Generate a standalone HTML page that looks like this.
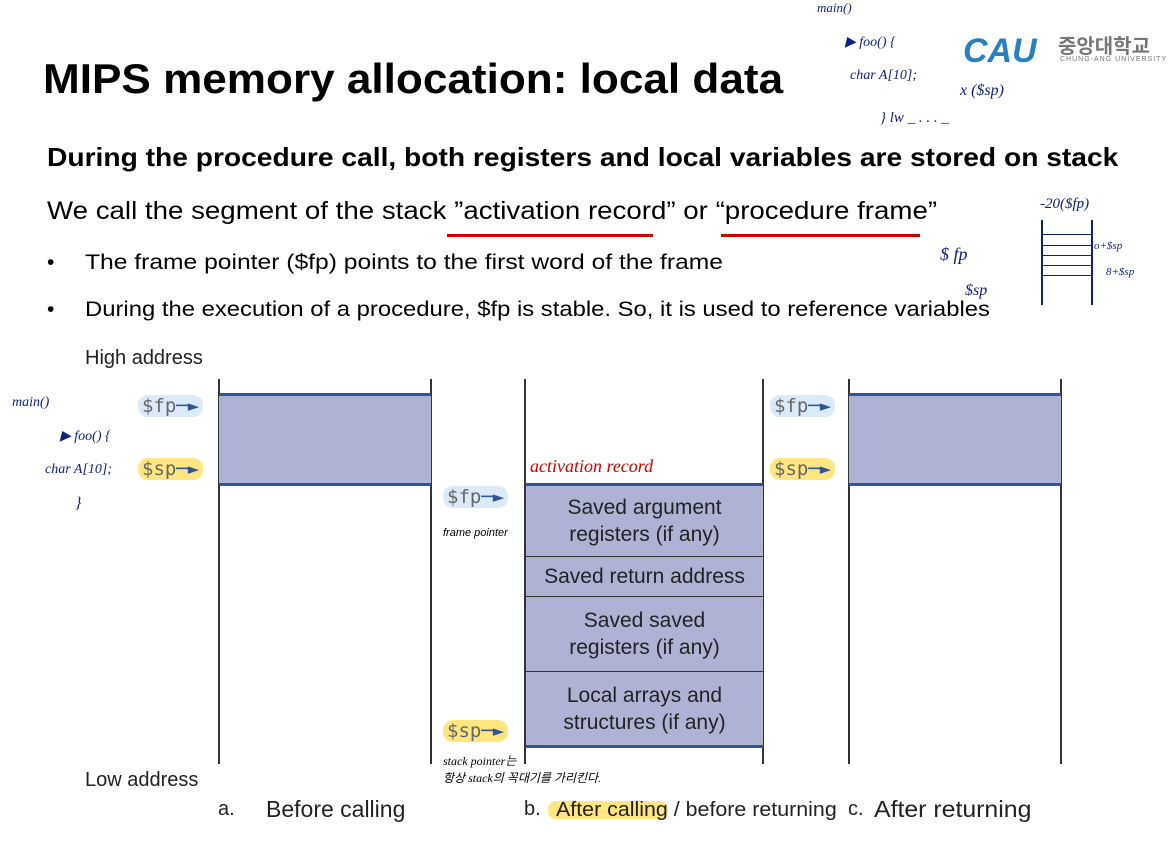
<!DOCTYPE html>
<html><head><meta charset="utf-8"><style>
body{margin:0;width:1169px;height:841px;background:#fff;position:relative;overflow:hidden;font-family:"Liberation Sans",sans-serif}
.a{position:absolute;white-space:nowrap;transform-origin:0 0}
.v{position:absolute;width:2px;background:#333}
.box{position:absolute;background:#aeb3d6;box-sizing:border-box;border-top:3px solid #2f5597;border-bottom:3px solid #2f5597}
.cell{position:absolute;background:#aeb3d6;box-sizing:border-box;border:1px solid #333;display:flex;align-items:center;justify-content:center;text-align:center;font-size:21px;line-height:27px;color:#222}
.reg{position:absolute;font-family:"DejaVu Sans Mono","Liberation Mono",monospace;font-size:19px;color:#666;padding:0 4px;border-radius:10px}
.hw{position:absolute;font-family:"Liberation Serif",serif;font-style:italic;color:#102080;white-space:nowrap}
</style></head><body>
<div class="a" style="left:43px;top:55px;font-size:42px;font-weight:bold;color:#000;transform:scaleX(1.05)">MIPS memory allocation: local data</div>
<div class="a" style="left:47px;top:142px;font-size:26px;font-weight:bold;transform:scaleX(1.084)">During the procedure call, both registers and local variables are stored on stack</div>
<div class="a" style="left:47px;top:197px;font-size:25px;transform:scaleX(1.107)">We call the segment of the stack ”activation record” or “procedure frame”</div>
<div class="a" style="left:447px;top:234px;width:206px;height:3px;background:#d00000"></div>
<div class="a" style="left:721px;top:234px;width:199px;height:3px;background:#d00000"></div>
<div class="a" style="left:47px;top:251px;font-size:21px">•</div>
<div class="a" style="left:85px;top:251px;font-size:21px;transform:scaleX(1.173)">The frame pointer ($fp) points to the first word of the frame</div>
<div class="a" style="left:47px;top:298px;font-size:21px">•</div>
<div class="a" style="left:85px;top:298px;font-size:21px;transform:scaleX(1.135)">During the execution of a procedure, $fp is stable. So, it is used to reference variables</div>
<div class="a" style="left:85px;top:347px;font-size:20px;color:#222">High address</div>
<div class="a" style="left:85px;top:769px;font-size:20px;color:#222">Low address</div>

<div class="v" style="left:218px;top:379px;height:385px"></div>
<div class="v" style="left:430px;top:379px;height:385px"></div>
<div class="v" style="left:524px;top:379px;height:385px"></div>
<div class="v" style="left:762px;top:379px;height:385px"></div>
<div class="v" style="left:848px;top:379px;height:385px"></div>
<div class="v" style="left:1060px;top:379px;height:385px"></div>

<div class="box" style="left:219px;top:393px;width:212px;height:93px"></div>
<div class="box" style="left:849px;top:393px;width:212px;height:93px"></div>

<div class="cell" style="left:525px;top:483px;width:239px;height:74px;border-top:3px solid #2f5597">Saved argument<br>registers (if any)</div>
<div class="cell" style="left:525px;top:556px;width:239px;height:41px">Saved return address</div>
<div class="cell" style="left:525px;top:596px;width:239px;height:76px">Saved saved<br>registers (if any)</div>
<div class="cell" style="left:525px;top:671px;width:239px;height:77px;border-bottom:3px solid #2f5597">Local arrays and<br>structures (if any)</div>

<div class="reg" style="left:138px;top:395px;background:#dbeaf8">$fp<span style="color:#2f5597">─►</span></div>
<div class="reg" style="left:138px;top:458px;background:#ffe680">$sp<span style="color:#2f5597">─►</span></div>
<div class="reg" style="left:443px;top:486px;background:#dbeaf8">$fp<span style="color:#2f5597">─►</span></div>
<div class="reg" style="left:443px;top:720px;background:#ffe680">$sp<span style="color:#2f5597">─►</span></div>
<div class="reg" style="left:770px;top:395px;background:#dbeaf8">$fp<span style="color:#2f5597">─►</span></div>
<div class="reg" style="left:770px;top:458px;background:#ffe680">$sp<span style="color:#2f5597">─►</span></div>

<div class="a" style="left:530px;top:456px;font-size:18px;color:#d00000;font-style:italic;font-family:'Liberation Serif',serif">activation record</div>
<div class="a" style="left:443px;top:527px;font-size:11px;font-style:italic">frame pointer</div>
<div class="a" style="left:443px;top:752px;font-size:12px;font-style:italic;font-family:'Liberation Serif','Noto Sans CJK KR',serif">stack pointer는<br>항상 stack의 꼭대기를 가리킨다.</div>

<div class="a" style="left:218px;top:798px;font-size:20px;color:#222">a.</div>
<div class="a" style="left:266px;top:796px;font-size:23px;color:#222">Before calling</div>
<div class="a" style="left:524px;top:798px;font-size:20px;color:#222">b.</div>
<div class="a" style="left:548px;top:801px;width:120px;height:18px;background:#ffe680;border-radius:8px"></div>
<div class="a" style="left:556px;top:799px;font-size:20px;color:#222;transform:scaleX(1.07)">After calling / before returning</div>
<div class="a" style="left:848px;top:798px;font-size:20px;color:#222">c.</div>
<div class="a" style="left:874px;top:796px;font-size:23px;color:#222;transform:scaleX(1.08)">After returning</div>

<div class="hw" style="left:12px;top:395px;font-size:14px">main()</div>
<div class="hw" style="left:60px;top:428px;font-size:14px">▶ foo() {</div>
<div class="hw" style="left:45px;top:462px;font-size:14px">char A[10];</div>
<div class="hw" style="left:75px;top:495px;font-size:16px">}</div>

<div class="hw" style="left:817px;top:0px;font-size:13px">main()</div>
<div class="hw" style="left:845px;top:34px;font-size:14px">▶ foo() {</div>
<div class="hw" style="left:850px;top:68px;font-size:14px">char A[10];</div>
<div class="hw" style="left:880px;top:110px;font-size:15px">} lw _ . . . _</div>
<div class="hw" style="left:960px;top:82px;font-size:16px">x ($sp)</div>
<div class="a" style="left:963px;top:32px;font-size:34px;font-weight:bold;font-style:italic;color:#2a7fc0">CAU</div>
<div class="a" style="left:1058px;top:30px;font-size:20px;font-weight:bold;color:#777;font-family:'Noto Sans CJK KR',sans-serif">중앙대학교</div>
<div class="a" style="left:1060px;top:56px;font-size:7px;color:#777;letter-spacing:1px">CHUNG-ANG UNIVERSITY</div>

<div class="hw" style="left:1040px;top:196px;font-size:15px">-20($fp)</div>
<div class="hw" style="left:940px;top:244px;font-size:18px">$ fp</div>
<div class="hw" style="left:965px;top:282px;font-size:16px">$sp</div>
<div class="a" style="left:1041px;top:220px;width:2px;height:85px;background:#102080"></div>
<div class="a" style="left:1091px;top:220px;width:2px;height:85px;background:#102080"></div>
<div class="a" style="left:1041px;top:234px;width:52px;height:1px;background:#102080"></div>
<div class="a" style="left:1041px;top:245px;width:52px;height:1px;background:#102080"></div>
<div class="a" style="left:1041px;top:255px;width:52px;height:1px;background:#102080"></div>
<div class="a" style="left:1041px;top:265px;width:52px;height:1px;background:#102080"></div>
<div class="a" style="left:1041px;top:275px;width:52px;height:1px;background:#102080"></div>
<div class="hw" style="left:1094px;top:240px;font-size:11px">o+$sp</div>
<div class="hw" style="left:1106px;top:266px;font-size:11px">8+$sp</div>
</body></html>
